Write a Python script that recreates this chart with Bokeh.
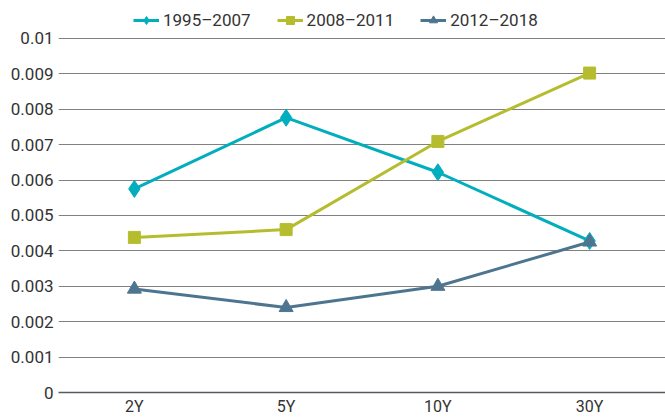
from bokeh.plotting import figure
from bokeh.models import Legend, LegendItem, FixedTicker, Range1d
from bokeh.embed import file_html
from bokeh.resources import INLINE

categories = ["2Y", "5Y", "10Y", "30Y"]
s1_name = "1995–2007"
s2_name = "2008–2011"
s3_name = "2012–2018"
s1 = [0.00575, 0.00776, 0.00622, 0.00428]
s2 = [0.00438, 0.00460, 0.00709, 0.00902]
s3 = [0.00292, 0.00240, 0.00300, 0.00425]
y_ticks = [0, 0.001, 0.002, 0.003, 0.004, 0.005, 0.006, 0.007, 0.008, 0.009, 0.01]
y_tick_labels = ["0", "0.001", "0.002", "0.003", "0.004", "0.005", "0.006", "0.007", "0.008", "0.009", "0.01"]

c1 = "#00AEBD"
c2 = "#B5BD2E"
c3 = "#4E7590"
FONT = "Roboto"
TXT = "#333333"

p = figure(width=665, height=418, x_range=categories, y_range=Range1d(0, 0.01107),
           output_backend="svg", toolbar_location=None,
           min_border_left=58, min_border_right=0, min_border_top=0, min_border_bottom=0)
p.outline_line_color = None
p.background_fill_color = "white"
p.border_fill_color = "white"

r1l = p.line(categories, s1, line_color=c1, line_width=3)
r1m = p.scatter(categories, s1, marker="diamond", size=17, fill_color=c1, line_color=c1)
r2l = p.line(categories, s2, line_color=c2, line_width=3)
r2m = p.scatter(categories, s2, marker="square", size=12, fill_color=c2, line_color=c2)
r3l = p.line(categories, s3, line_color=c3, line_width=3)
r3m = p.scatter(categories, s3, marker="triangle", size=14, fill_color=c3, line_color=c3)

# axes
p.yaxis.ticker = FixedTicker(ticks=y_ticks)
p.yaxis.major_label_overrides = {t: l for t, l in zip(y_ticks, y_tick_labels)}
p.yaxis.axis_line_color = None
p.yaxis.major_tick_line_color = None
p.yaxis.minor_tick_line_color = None
p.yaxis.major_tick_out = 0
p.yaxis.major_tick_in = 0
p.yaxis.minor_tick_out = 0
p.yaxis.major_label_text_font = FONT
p.yaxis.major_label_text_font_size = "17px"
p.yaxis.major_label_text_color = TXT
p.yaxis.major_label_standoff = 5

p.xaxis.axis_line_color = "#555a60"
p.xaxis.axis_line_width = 1.5
p.xaxis.major_tick_line_color = None
p.xaxis.minor_tick_line_color = None
p.xaxis.major_tick_out = 0
p.xaxis.major_tick_in = 0
p.xaxis.minor_tick_out = 0
p.xaxis.axis_label_standoff = 0
p.xaxis.major_label_text_font = FONT
p.xaxis.major_label_text_font_size = "16px"
p.xaxis.major_label_text_color = TXT
p.xaxis.major_label_standoff = 4

p.xgrid.grid_line_color = None
p.ygrid.grid_line_color = "#808080"
p.ygrid.grid_line_width = 1.2

legend = Legend(items=[
    LegendItem(label=s1_name, renderers=[r1l, r1m]),
    LegendItem(label=s2_name, renderers=[r2l, r2m]),
    LegendItem(label=s3_name, renderers=[r3l, r3m]),
], orientation="horizontal", location=(75, 362))
legend.label_text_font = FONT
legend.label_text_font_size = "17px"
legend.label_text_color = TXT
legend.glyph_width = 26
legend.glyph_height = 20
legend.label_height = 20
legend.label_standoff = 4
legend.spacing = 26
legend.padding = 0
legend.margin = 0
legend.border_line_color = None
legend.background_fill_alpha = 0
p.add_layout(legend)

open("out.html", "w").write(file_html(p, INLINE))
